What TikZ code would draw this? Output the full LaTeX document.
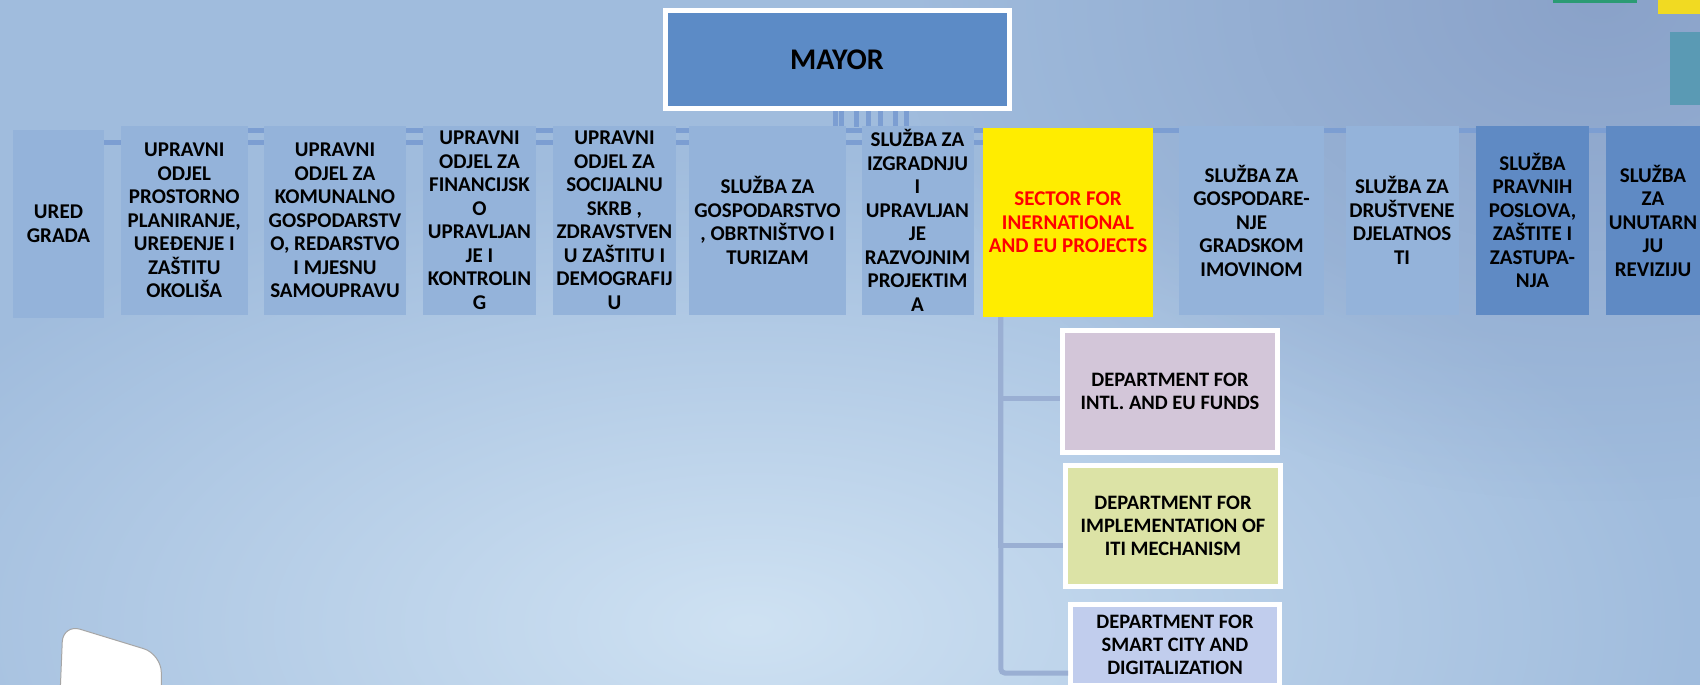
\documentclass[tikz,border=0pt]{standalone}
\usepackage{fontspec}
\setmainfont{Carlito}
\usetikzlibrary{fadings}

\pgfdeclarelayer{background}
\pgfsetlayers{background,main}

\definecolor{bgbase}{HTML}{A0BCDD}
\definecolor{bglight}{HTML}{CFE2F3}
\definecolor{bgdark}{HTML}{8AA2C9}
\definecolor{cellfill}{HTML}{94B3DA}
\definecolor{celldark}{HTML}{5F8AC4}
\definecolor{mayorfill}{HTML}{5C8BC6}
\definecolor{sectorfill}{HTML}{FFED00}
\definecolor{fundsfill}{HTML}{D3C6D9}
\definecolor{itifill}{HTML}{DCE3A6}
\definecolor{smartfill}{HTML}{C1CDED}
\definecolor{linkcol}{HTML}{9AAFD3}
\definecolor{barcol}{HTML}{7C9ED2}
\definecolor{tilegreen}{HTML}{2B9B74}
\definecolor{tileyellow}{HTML}{F1DA22}
\definecolor{tileteal}{HTML}{5A9AB4}

\tikzfading[name=glowfade, inner color=transparent!0, outer color=transparent!100]

\newcommand{\cellfont}{\fontsize{21}{23.5}\selectfont\bfseries}
\newcommand{\headfont}{\fontsize{30}{34}\selectfont\bfseries}
\newcommand{\deptfont}{\fontsize{20.5}{23}\selectfont\bfseries}

\tikzset{
  orgcell/.style={rectangle, inner sep=0pt, align=center, fill=cellfill, font=\cellfont,
    minimum width=#1, minimum height=189},
  darkcell/.style={orgcell=#1, fill=celldark},
  head/.style={rectangle, inner sep=0pt, fill=mayorfill, draw=white, line width=5pt,
    minimum width=344, minimum height=98, font=\headfont},
  dept/.style={rectangle, inner sep=0pt, align=center, draw=white, line width=5pt,
    font=\deptfont, minimum width=215},
  link/.style={draw=linkcol, line width=5pt},
  bar/.style={draw=barcol, line width=5pt},
}

\begin{document}
\begin{tikzpicture}[x=1pt,y=-1pt]
  \useasboundingbox (0,0) rectangle (1700,685);

  \begin{pgfonlayer}{background}
    \fill[bgbase] (0,0) rectangle (1700,685);
    \fill[bglight, path fading=glowfade] (-200,150) rectangle (1700,1100);
    \fill[bgdark, path fading=glowfade] (900,-500) rectangle (2300,500);
    \fill[tilegreen] (1553,0) rectangle (1637,3);
    \fill[tileyellow] (1658,0) rectangle (1700,14);
    \fill[tileteal] (1670,32) rectangle (1700,105);
  \end{pgfonlayer}

  \filldraw[fill=white, draw=gray!70, line width=1pt, rounded corners=18]
    (59,720) -- (63,624) -- (161,654) -- (162,720) -- cycle;

  \node[head] (mayor) at (837,59.5) {MAYOR};

  \node[orgcell=91, minimum height=188] (ured) at (58.5,224) {URED\\GRADA};
  \node[orgcell=126.5] (prostor) at (184.25,220.5) {UPRAVNI\\ODJEL\\PROSTORNO\\PLANIRANJE,\\UREĐENJE I\\ZAŠTITU\\OKOLIŠA};
  \node[orgcell=142] (komunal) at (335,220.5) {UPRAVNI\\ODJEL ZA\\KOMUNALNO\\GOSPODARSTV\\O, REDARSTVO\\I MJESNU\\SAMOUPRAVU};
  \node[orgcell=113] (financ) at (479.5,220.5) {UPRAVNI\\ODJEL ZA\\FINANCIJSK\\O\\UPRAVLJAN\\JE I\\KONTROLIN\\G};
  \node[orgcell=123] (socijal) at (614.5,220.5) {UPRAVNI\\ODJEL ZA\\SOCIJALNU\\SKRB ,\\ZDRAVSTVEN\\U ZAŠTITU I\\DEMOGRAFIJ\\U};
  \node[orgcell=157] (gospod) at (767.5,220.5) {SLUŽBA ZA\\GOSPODARSTVO\\, OBRTNIŠTVO I\\TURIZAM};
  \node[orgcell=112] (izgrad) at (917.5,220.5) {SLUŽBA ZA\\IZGRADNJU\\I\\UPRAVLJAN\\JE\\RAZVOJNIM\\PROJEKTIM\\A};
  \node[orgcell=170, fill=sectorfill, text=red] (sector) at (1068,222.5) {SECTOR FOR\\INERNATIONAL\\AND EU PROJECTS};
  \node[orgcell=145] (imovina) at (1251.5,220.5) {SLUŽBA ZA\\GOSPODARE-\\NJE\\GRADSKOM\\IMOVINOM};
  \node[orgcell=113] (drustv) at (1402,220.5) {SLUŽBA ZA\\DRUŠTVENE\\DJELATNOS\\TI};
  \node[darkcell=113] (pravni) at (1532.5,220.5) {SLUŽBA\\PRAVNIH\\POSLOVA,\\ZAŠTITE I\\ZASTUPA-\\NJA};
  \node[darkcell=94] (reviz) at (1653,220.5) {SLUŽBA\\ZA\\UNUTARN\\JU\\REVIZIJU};

  \node[dept, fill=fundsfill, minimum height=122] (funds) at (1170,391.5) {DEPARTMENT FOR\\INTL. AND EU FUNDS};
  \node[dept, fill=itifill, minimum height=121] (iti) at (1173,526) {DEPARTMENT FOR\\IMPLEMENTATION OF\\ITI MECHANISM};
  \node[dept, fill=smartfill, minimum width=209, minimum height=81] (smart) at (1175,645) {DEPARTMENT FOR\\SMART CITY AND\\DIGITALIZATION};

  \coordinate (trunk) at ([xshift=18pt]sector.south west);
  \draw[link] (trunk) |- ([yshift=-6.5pt]funds.west);
  \draw[link] (trunk) |- ([yshift=-19pt]iti.west);
  \draw[link, rounded corners=4] (trunk) |- ([yshift=-28pt]smart.west);

  \coordinate (highbar) at (0,130.5);
  \coordinate (lowbar) at (0,142.5);
  \begin{pgfonlayer}{background}
    \draw[bar] (ured.east |- lowbar) -- (sector.west |- lowbar);
    \draw[bar] (prostor.east |- highbar) -- (reviz.west |- highbar);
    \foreach \sx in {173,179,194,206,218,233,244}
      \draw[bar] ([xshift=\sx pt]mayor.south west) -- ++(0,16);
  \end{pgfonlayer}
\end{tikzpicture}
\end{document}
